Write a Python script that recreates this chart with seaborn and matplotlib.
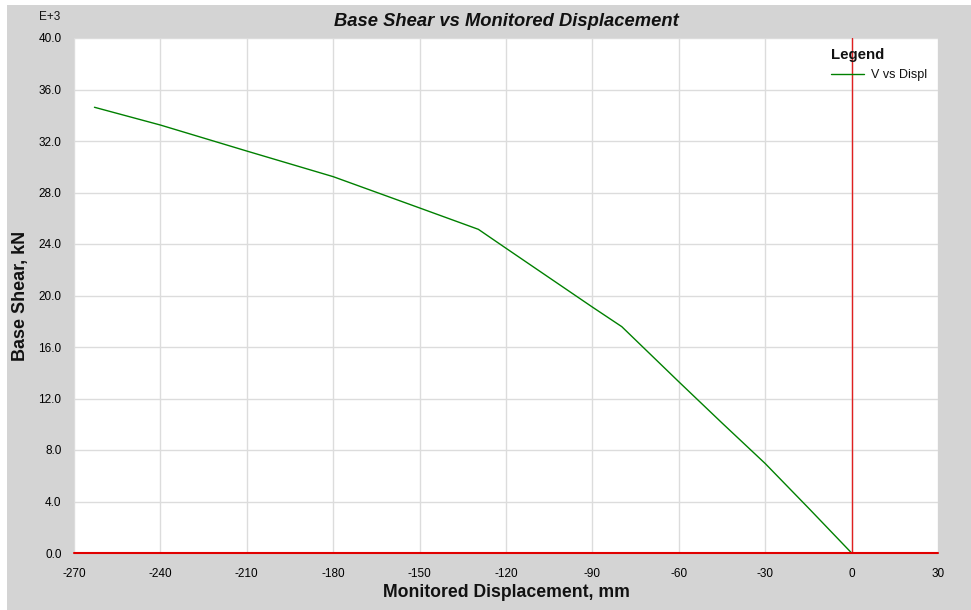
import numpy as np
import pandas as pd
import matplotlib
matplotlib.use("Agg")
import matplotlib.pyplot as plt
import seaborn as sns
from matplotlib.patches import Rectangle

# Data (displacement in mm, base shear in kN x 1e3)
displacement = [-262.9, -240.0, -210.0, -180.0, -150.0, -129.6, -120.0, -90.0, -79.8, -60.0, -45.0, -30.0, -15.0, 0.0]
base_shear = [34.62, 33.24, 31.22, 29.23, 26.80, 25.14, 23.67, 19.10, 17.58, 13.30, 10.10, 6.95, 3.50, 0.0]
series_name = "V vs Displ"
x_ticks = list(range(-270, 31, 30))
y_ticks = [0, 4, 8, 12, 16, 20, 24, 28, 32, 36, 40]

df = pd.DataFrame({"Displacement": displacement, "Shear": base_shear, "Series": series_name})

sns.set_style("white")
plt.rcParams['font.family'] = ['Liberation Sans', 'DejaVu Sans']
plt.rcParams['text.color'] = '#111111'
plt.rcParams['axes.labelcolor'] = '#111111'

W, H = 971, 610
fig = plt.figure(figsize=(W / 100, H / 100), dpi=100, facecolor="white")
bg = "#d4d4d4"
fig.patches.append(Rectangle((7 / W, 0), 1, 1 - 5 / H, transform=fig.transFigure,
                             facecolor=bg, edgecolor="none", zorder=-10))

ax = fig.add_axes([74 / W, 1 - 553 / H, (938 - 74) / W, (553 - 38) / H])
ax.set_facecolor("white")

sns.lineplot(data=df, x="Displacement", y="Shear", hue="Series", palette=["#008000"],
             linewidth=1.0, ax=ax, sort=False, zorder=3)

ax.set_xlim(-270, 30)
ax.set_ylim(0, 40)
ax.set_xticks(x_ticks)
ax.set_xticklabels([str(t) for t in x_ticks])
ax.set_yticks(y_ticks)
ax.set_yticklabels([f"{t:.1f}" for t in y_ticks])
ax.grid(True, color="#dcdcdc", linewidth=1.0)
ax.set_axisbelow(True)
for s in ax.spines.values():
    s.set_visible(False)
ax.axvline(0, color="#e02020", linewidth=1.0, zorder=2)
ax.axhline(0, color="#e00000", linewidth=1.5, zorder=4, clip_on=False)

ax.tick_params(axis="both", which="both", length=5, width=1, color="#202020",
               labelsize=8.5, labelcolor="#000000", direction="out", pad=4)
ax.tick_params(axis="x", pad=6)

ax.set_xlabel("Monitored Displacement, mm", fontsize=12.7, fontweight="bold", labelpad=3)
ax.set_ylabel("Base Shear, kN", fontsize=13, fontweight="bold", labelpad=7)
ax.set_title("Base Shear vs Monitored Displacement", fontsize=13.2, fontweight="bold",
             fontstyle="italic", pad=9)
fig.text(50 / W, 1 - 17 / H, "E+3", fontsize=8.5, ha="center", va="center")

leg = ax.legend(title="Legend", loc="upper right", bbox_to_anchor=(1.0, 1.003),
                frameon=False, fontsize=9, handlelength=2.7, handletextpad=0.5,
                alignment="left", labelspacing=0.6)
leg.get_title().set_fontweight("bold")
leg.get_title().set_fontsize(10.8)
for line in leg.get_lines():
    line.set_linewidth(1.0)

fig.savefig("out.png", dpi=100, facecolor=fig.get_facecolor())
